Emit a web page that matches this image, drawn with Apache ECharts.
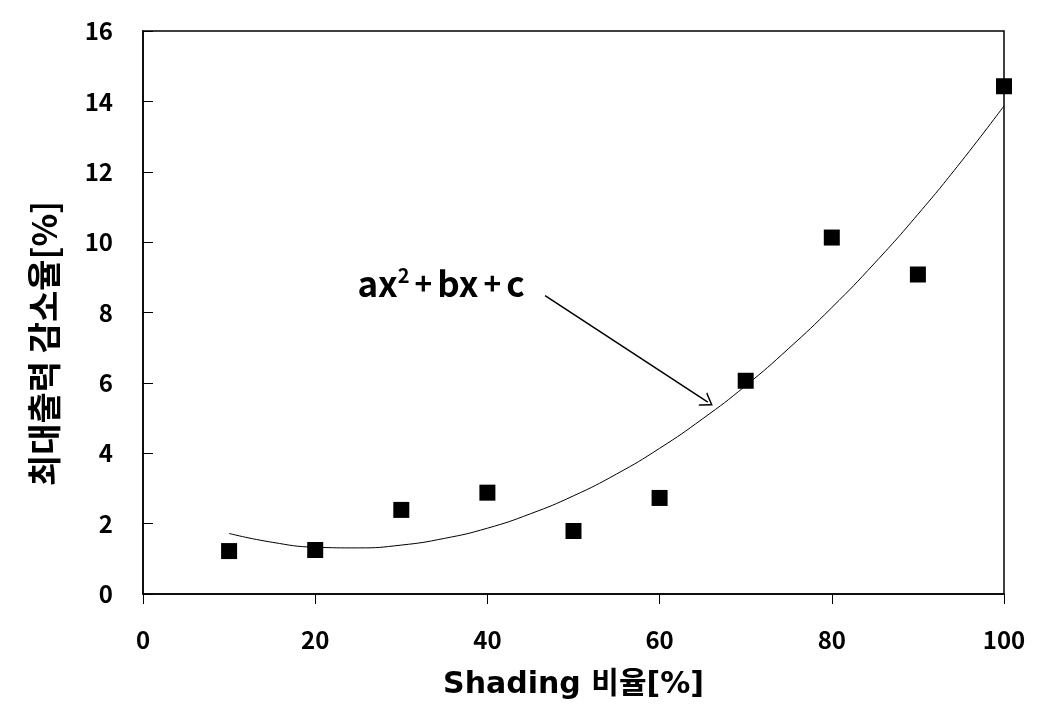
<!DOCTYPE html>
<html>
<head>
<meta charset="utf-8">
<script src="https://cdn.jsdelivr.net/npm/echarts@6/dist/echarts.min.js"></script>
<style>
html,body{margin:0;padding:0;background:#fff;}
#chart{width:1041px;height:723px;}
</style>
</head>
<body>
<div id="chart"></div>
<script>
// Measured points (Shading ratio %, max-power reduction %)
var shadingRatio = [10, 20, 30, 40, 50, 60, 70, 80, 90, 100];
var powerDrop = [1.22, 1.25, 2.39, 2.88, 1.79, 2.73, 6.06, 10.13, 9.08, 14.43];
// Trend curve
var curveX = [10, 15, 20, 25, 30, 35, 40, 45, 50, 55, 60, 65, 70, 75, 80, 85, 90, 95, 100];
var curveY = [1.72, 1.47, 1.33, 1.31, 1.39, 1.58, 1.87, 2.28, 2.79, 3.41, 4.14, 4.98, 5.92, 6.98, 8.14, 9.41, 10.79, 12.28, 13.87];
// Annotation
var noteText = 'ax2+bx+c';
var notePos = [24.9, 8.83];
var arrowFrom = [46.7, 8.48];
var arrowTo = [65.6, 5.45];

var xTitle = 'Shading 비율[%]';
var yTitle = '최대출력 감소율[%]';

var font = "'Noto Sans CJK KR', 'Noto Sans', sans-serif";
var wideFont = "'DejaVu Sans', 'Noto Sans CJK KR', sans-serif";
var chart = echarts.init(document.getElementById('chart'));
chart.setOption({
  animation: false,
  backgroundColor: '#fff',
  grid: {left: 143, right: 37, top: 31, bottom: 129, show: true, borderColor: '#000', borderWidth: 1.5, backgroundColor: 'transparent'},
  xAxis: {
    type: 'value', min: 0, max: 100, interval: 20,
    name: xTitle, nameLocation: 'middle', nameGap: 76,
    nameTextStyle: {fontFamily: wideFont, fontWeight: 'bold', fontSize: 30, color: '#000'},
    axisLine: {lineStyle: {color: '#000', width: 1.5}},
    axisTick: {inside: false, length: 10, lineStyle: {color: '#000', width: 1}},
    axisLabel: {margin: 34, fontFamily: font, fontWeight: 'bold', fontSize: 24, color: '#000'},
    splitLine: {show: false}
  },
  yAxis: {
    type: 'value', min: 0, max: 16, interval: 2,
    name: yTitle, nameLocation: 'middle', nameGap: 82,
    nameTextStyle: {fontFamily: font, fontWeight: 'bold', fontSize: 34, color: '#000', padding: [0, 62, 0, 0]},
    axisLine: {lineStyle: {color: '#000', width: 1.5}},
    axisTick: {inside: true, length: 10, lineStyle: {color: '#000', width: 1}},
    axisLabel: {margin: 30, fontFamily: font, fontWeight: 'bold', fontSize: 24, color: '#000'},
    splitLine: {show: false}
  },
  series: [
    {
      type: 'line', data: curveX.map(function (x, i) { return [x, curveY[i]]; }),
      smooth: true, symbol: 'none', lineStyle: {color: '#000', width: 1}, z: 2,
      markLine: {
        silent: true, animation: false,
        symbol: ['none', 'path://M10,0 L0,20 L2.2,20 L10,4.5 L17.8,20 L20,20 Z'],
        symbolSize: [16, 12],
        lineStyle: {color: '#000', width: 1.5, type: 'solid'},
        label: {show: false},
        data: [[{coord: arrowFrom}, {coord: arrowTo}]]
      },
      markPoint: {
        silent: true, symbol: 'circle', symbolSize: 0,
        data: [{coord: notePos, value: noteText}],
        label: {
          show: true, position: 'inside', align: 'left', verticalAlign: 'middle',
          formatter: function () { return '{a|ax}{s|2}{p|+}{a|bx}{p|+}{a|c}'; },
          rich: {
            a: {fontFamily: font, fontWeight: 'bold', fontSize: 35, color: '#000'},
            s: {fontFamily: font, fontWeight: 'bold', fontSize: 20, color: '#000', verticalAlign: 'top', padding: [0, 0, 16, 0]},
            p: {fontFamily: font, fontWeight: 'bold', fontSize: 30, color: '#000', padding: [0, 5, 0, 5]}
          }
        }
      }
    },
    {
      type: 'scatter', data: shadingRatio.map(function (x, i) { return [x, powerDrop[i]]; }),
      symbol: 'rect', symbolSize: 16, itemStyle: {color: '#000', opacity: 1}, z: 3
    }
  ]
});
</script>
</body>
</html>
